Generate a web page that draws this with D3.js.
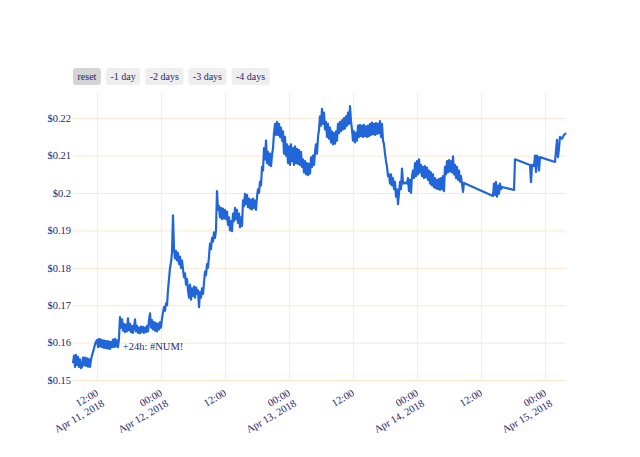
<!DOCTYPE html>
<html><head><meta charset="utf-8">
<script src="https://cdn.jsdelivr.net/npm/d3@7"></script>
<style>body{margin:0;background:#fff} svg{display:block}</style>
</head><body>
<svg id="c" width="640" height="457"></svg>
<script>
// hours since 2018-04-11 00:00 UTC, price in USD
const startDate = "2018-04-11T00:00:00Z";
const priceSeries = [
[7.5,.1545],[7.69,.1565],[7.88,.1535],[8.06,.1567],[8.25,.1540],[8.44,.1562],[8.63,.1535],[8.81,.1555],
[9,.1532],[9.19,.1535],[9.38,.1560],[9.56,.1540],[9.75,.1560],[9.94,.1538],[10.13,.1558],[10.31,.1536],[10.5,.1556],[10.69,.1535],[10.88,.1555],[11.06,.1565],[11.25,.1575],[11.44,.1585],[11.63,.1595],[11.81,.1602],
[12,.1607],[12.19,.1588],[12.38,.1610],[12.56,.1590],[12.75,.1608],[12.94,.1588],[13.13,.1606],[13.31,.1586],[13.5,.1605],[13.69,.1585],[13.88,.1604],[14.06,.1584],[14.25,.1603],[14.44,.1583],[14.63,.1602],[14.81,.1588],
[15,.1608],[15.19,.1588],[15.38,.1610],[15.56,.1590],[15.75,.1606],[15.94,.1588],[16.13,.1612],[16.31,.1668],[16.5,.1640],[16.69,.1662],[16.88,.1632],[17.06,.1650],[17.25,.1628],[17.44,.1648],[17.63,.1630],[17.81,.1665],
[18,.1633],[18.19,.1650],[18.38,.1628],[18.56,.1645],[18.75,.1626],[18.94,.1642],[19.13,.1662],[19.31,.1630],[19.5,.1645],[19.69,.1626],[19.88,.1640],[20.06,.1625],[20.25,.1643],[20.44,.1628],[20.63,.1642],[20.81,.1626],
[21,.1640],[21.19,.1628],[21.38,.1645],[21.56,.1630],[21.75,.1660],[21.94,.1678],[22.13,.1640],[22.31,.1660],[22.5,.1635],[22.69,.1655],[22.88,.1632],[23.06,.1652],[23.25,.1630],[23.44,.1650],[23.63,.1635],[23.81,.1655],
[24,.1640],[24.19,.1665],[24.38,.1680],[24.56,.1695],[24.75,.1685],[24.94,.1705],[25.13,.1700],[25.31,.1740],[25.5,.1770],[25.69,.1800],[25.88,.1815],[26.06,.1840],[26.25,.1940],[26.44,.1850],[26.63,.1825],[26.81,.1845],
[27,.1820],[27.19,.1840],[27.38,.1810],[27.56,.1830],[27.75,.1800],[27.94,.1820],[28.13,.1795],[28.31,.1775],[28.5,.1785],[28.69,.1755],[28.88,.1770],[29.06,.1740],[29.25,.1720],[29.44,.1755],[29.63,.1715],[29.81,.1745],
[30,.1725],[30.19,.1750],[30.38,.1720],[30.56,.1748],[30.75,.1730],[30.94,.1740],[31.13,.1695],[31.31,.1735],[31.5,.1720],[31.69,.1745],[31.88,.1730],[32.06,.1760],[32.25,.1790],[32.44,.1780],[32.63,.1810],[32.81,.1800],
[33,.1830],[33.19,.1865],[33.38,.1850],[33.56,.1880],[33.75,.1870],[33.94,.1895],[34.13,.1880],[34.31,.1900],[34.5,.2005],[34.69,.1955],[34.88,.1965],[35.06,.1935],[35.25,.1960],[35.44,.1930],[35.63,.1958],[35.81,.1932],
[36,.1955],[36.19,.1930],[36.38,.1950],[36.56,.1915],[36.75,.1935],[36.94,.1900],[37.13,.1925],[37.31,.1898],[37.5,.1945],[37.69,.1925],[37.88,.1960],[38.06,.1930],[38.25,.1955],[38.44,.1920],[38.63,.1945],[38.81,.1908],
[39,.1935],[39.19,.1912],[39.38,.1980],[39.56,.1965],[39.75,.1998],[39.94,.1970],[40.13,.1995],[40.31,.1962],[40.5,.1985],[40.69,.1958],[40.88,.1982],[41.06,.1956],[41.25,.1985],[41.44,.1960],[41.63,.1980],[41.81,.1955],
[42,.1990],[42.19,.2010],[42.38,.2000],[42.56,.2030],[42.75,.2020],[42.94,.2070],[43.13,.2060],[43.31,.2120],[43.5,.2090],[43.69,.2140],[43.88,.2080],[44.06,.2110],[44.25,.2075],[44.44,.2105],[44.63,.2072],[44.81,.2100],
[45,.2120],[45.19,.2160],[45.38,.2185],[45.56,.2155],[45.75,.2190],[45.94,.2155],[46.13,.2185],[46.31,.2150],[46.5,.2175],[46.69,.2140],[46.88,.2165],[47.06,.2105],[47.25,.2150],[47.44,.2100],[47.63,.2130],[47.81,.2080],
[48,.2125],[48.19,.2075],[48.38,.2130],[48.56,.2085],[48.75,.2120],[48.94,.2075],[49.13,.2125],[49.31,.2080],[49.5,.2118],[49.69,.2078],[49.88,.2115],[50.06,.2075],[50.25,.2110],[50.44,.2070],[50.63,.2090],[50.81,.2055],
[51,.2085],[51.19,.2050],[51.38,.2080],[51.56,.2048],[51.75,.2078],[51.94,.2052],[52.13,.2095],[52.31,.2070],[52.5,.2100],[52.69,.2075],[52.88,.2110],[53.06,.2130],[53.25,.2105],[53.44,.2150],[53.63,.2170],[53.81,.2205],
[54,.2180],[54.19,.2225],[54.38,.2185],[54.56,.2215],[54.75,.2170],[54.94,.2190],[55.13,.2150],[55.31,.2185],[55.5,.2145],[55.69,.2175],[55.88,.2135],[56.06,.2165],[56.25,.2130],[56.44,.2160],[56.63,.2132],[56.81,.2165],
[57,.2140],[57.19,.2185],[57.38,.2160],[57.56,.2190],[57.75,.2165],[57.94,.2195],[58.13,.2170],[58.31,.2200],[58.5,.2172],[58.69,.2205],[58.88,.2180],[59.06,.2215],[59.25,.2185],[59.44,.2232],[59.63,.2190],[59.81,.2170],
[60,.2140],[60.19,.2165],[60.38,.2135],[60.56,.2160],[60.75,.2140],[60.94,.2180],[61.13,.2150],[61.31,.2182],[61.5,.2152],[61.69,.2180],[61.88,.2150],[62.06,.2182],[62.25,.2152],[62.44,.2178],[62.63,.2150],[62.81,.2180],
[63,.2152],[63.19,.2185],[63.38,.2155],[63.56,.2188],[63.75,.2157],[63.94,.2185],[64.13,.2155],[64.31,.2187],[64.5,.2158],[64.69,.2185],[64.88,.2160],[65.06,.2192],[65.25,.2150],[65.44,.2185],[65.63,.2140],[65.81,.2130],
[66,.2105],[66.19,.2085],[66.38,.2070],[66.56,.2045],[66.75,.2050],[66.94,.2025],[67.13,.2050],[67.31,.2020],[67.5,.2040],[67.69,.2010],[67.88,.2030],[68.06,.1990],[68.25,.2010],[68.44,.1970],[68.63,.2000],[68.81,.2030],
[69,.2010],[69.19,.2065],[69.38,.2025],[69.56,.2028],[69.75,.2026],[69.94,.2028],[70.13,.2025],[70.31,.2040],[70.5,.2005],[70.69,.2035],[70.88,.2000],[71.06,.2045],[71.25,.2060],[71.44,.2040],[71.63,.2080],[71.81,.2045],
[72,.2085],[72.19,.2050],[72.38,.2090],[72.56,.2055],[72.75,.2075],[72.94,.2045],[73.13,.2070],[73.31,.2040],[73.5,.2072],[73.69,.2042],[73.88,.2068],[74.06,.2035],[74.25,.2060],[74.44,.2025],[74.63,.2055],[74.81,.2020],
[75,.2050],[75.19,.2015],[75.38,.2040],[75.56,.2012],[75.75,.2035],[75.94,.2010],[76.13,.2038],[76.31,.2008],[76.5,.2040],[76.69,.2010],[76.88,.2045],[77.06,.2005],[77.25,.2070],[77.44,.2050],[77.63,.2085],[77.81,.2055],
[78,.2088],[78.19,.2058],[78.38,.2085],[78.56,.2055],[78.75,.2098],[78.94,.2050],[79.13,.2075],[79.31,.2040],[79.5,.2070],[79.69,.2035],[79.88,.2060],[80.06,.2030],[80.25,.2045],[80.44,.2025],[80.63,.2003],[80.81,.2027],
[86.25,.1992],[86.44,.2025],[86.63,.1995],[86.81,.2030],[87,.1990],[87.19,.2020],[87.38,.1998],[87.56,.2025],[87.75,.2010],[87.94,.2016],
[90.19,.2008],[90.38,.2090],[93.19,.2075],[93.38,.2029],[93.56,.2075],[93.94,.2072],[94.13,.2100],[94.31,.2056],[94.5,.2100],[94.69,.2095],[94.88,.2060],[95.06,.2096],
[97.88,.2083],[98.25,.2142],[98.44,.2096],[98.63,.2120],[98.81,.2150],[99.19,.2145],[99.56,.2155],[99.94,.2160]
];
const xTickHours = [12,24,36,48,60,72,84,96];
const xTickLabels = [["12:00","Apr 11, 2018"],["00:00","Apr 12, 2018"],["12:00"],["00:00","Apr 13, 2018"],["12:00"],["00:00","Apr 14, 2018"],["12:00"],["00:00","Apr 15, 2018"]];
const yTickValues = [0.15,0.16,0.17,0.18,0.19,0.20,0.21,0.22];
const yTickLabels = ["$0.15","$0.16","$0.17","$0.18","$0.19","$0.2","$0.21","$0.22"];
const yRange = [0.15, 0.227];
const buttonLabels = ["reset","-1 day","-2 days","-3 days","-4 days"];
const activeButton = "reset";
const annotation = {hour: 22.5, price: 0.1590, text: "+24h: #NUM!"};

const W = 640, H = 457, m = {l:73, r:74, t:92, b:77};
const FONT = '"Liberation Serif","Times New Roman",serif';
const FS = "10.5px";
const TEXT = "#26266e";
const base = new Date(startDate).getTime();
const toDate = h => new Date(base + h*3600e3);

const svg = d3.select("#c");
svg.append("rect").attr("width",W).attr("height",H).attr("fill","#fff");

const x = d3.scaleUtc().domain(d3.extent(priceSeries, d => toDate(d[0]))).range([m.l, W-m.r]);
const y = d3.scaleLinear().domain(yRange).range([H-m.b, m.t]);

// vertical grid
svg.append("g").attr("transform",`translate(0,${H-m.b})`)
  .call(d3.axisBottom(x).tickValues(xTickHours.map(toDate)).tickSize(-(H-m.b-m.t)).tickFormat(""))
  .call(g => { g.select(".domain").remove(); g.selectAll("line").attr("stroke","#eeeeee").attr("stroke-width",1); });

// horizontal grid + labels
svg.append("g").attr("transform",`translate(${m.l},0)`)
  .call(d3.axisLeft(y).tickValues(yTickValues).tickSize(-(W-m.l-m.r)).tickPadding(2).tickFormat((d,i)=>yTickLabels[i]))
  .call(g => {
    g.select(".domain").remove();
    g.selectAll("line").attr("stroke","#fde6cc").attr("stroke-width",1);
    g.selectAll("text").attr("fill",TEXT).style("font-family",FONT).style("font-size",FS);
  });

// x labels
const xl = svg.append("g");
xTickHours.forEach((h,i) => {
  const t = xl.append("text")
    .attr("transform",`translate(${x(toDate(h))+2},${H-m.b+15}) rotate(-30)`)
    .attr("text-anchor","end").attr("fill",TEXT)
    .style("font-family",FONT).style("font-size",FS);
  xTickLabels[i].forEach((s,j) => t.append("tspan").attr("x",0).attr("dy", j===0 ? 0 : "1.15em").text(s));
});

// line
svg.append("path").datum(priceSeries)
  .attr("fill","none").attr("stroke","#2166d8").attr("stroke-width",2.2).attr("stroke-linejoin","round")
  .attr("d", d3.line().x(d => x(toDate(d[0]))).y(d => y(d[1])));

// annotation
svg.append("text").attr("x", x(toDate(annotation.hour))).attr("y", y(annotation.price)).attr("dy","0.35em")
  .attr("text-anchor","middle").attr("fill",TEXT).style("font-family",FONT).style("font-size",FS)
  .text(annotation.text);

// range selector buttons
const bg = svg.append("g");
let bx = m.l;
const by = 68, bh = 17;
buttonLabels.forEach(lbl => {
  const g = bg.append("g");
  const r = g.append("rect").attr("y",by).attr("height",bh).attr("rx",3)
    .attr("fill", lbl===activeButton ? "#d4d4d4" : "#eeeeee");
  const t = g.append("text").attr("y",by+bh/2).attr("dy","0.35em").attr("text-anchor","middle")
    .attr("fill",TEXT).style("font-family",FONT).style("font-size","10px").text(lbl);
  const w = t.node().getComputedTextLength() + 9;
  r.attr("x",bx).attr("width",w);
  t.attr("x",bx + w/2);
  bx += w + 5;
});
</script>
</body></html>
